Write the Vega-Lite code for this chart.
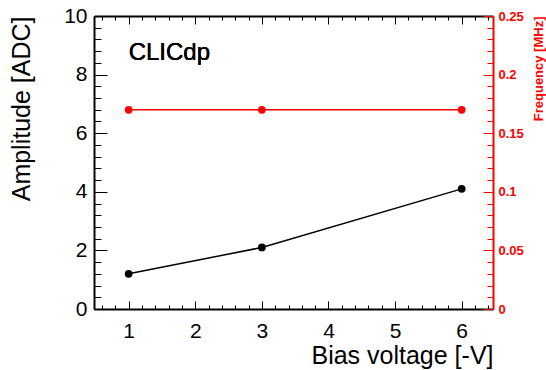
{
  "$schema": "https://vega.github.io/schema/vega-lite/v6.json",
  "width": 399,
  "height": 293,
  "autosize": {"type": "none"},
  "padding": {"left": 94, "top": 16, "right": 53, "bottom": 61},
  "background": "white",
  "config": {
    "view": {"stroke": null},
    "font": "Liberation Sans",
    "axis": {"grid": false, "ticks": true, "domainWidth": 2, "domainColor": "black", "tickColor": "black", "tickWidth": 1, "tickOpacity": 1, "labelColor": "black", "titleColor": "black", "labelFont": "Liberation Sans", "titleFont": "Liberation Sans", "titleFontWeight": "normal", "labelFontWeight": "normal"},
    "axisBottom": {"ticks": true, "tickColor": "black", "tickWidth": 1, "tickOpacity": 1},
    "axisLeft": {"ticks": true, "tickColor": "black", "tickWidth": 1, "tickOpacity": 1},
    "axisX": {"ticks": true, "tickOpacity": 1, "tickWidth": 1},
    "axisY": {"ticks": true, "tickOpacity": 1, "tickWidth": 1}
  },
  "data": {
    "values": [
      {"voltage": 1, "amplitude": 1.2, "frequency": 0.17},
      {"voltage": 3, "amplitude": 2.1, "frequency": 0.17},
      {"voltage": 6, "amplitude": 4.1, "frequency": 0.17}
    ]
  },
  "layer": [
    {
      "mark": {"type": "line", "color": "black", "strokeWidth": 1.5, "point": {"filled": true, "size": 60, "color": "black"}},
      "encoding": {
        "x": {
          "field": "voltage", "type": "quantitative",
          "scale": {"domain": [0.48, 6.47], "nice": false, "zero": false},
          "axis": {
            "orient": "bottom",
            "ticks": true,
            "tickColor": "black",
            "tickWidth": 1,
            "tickOpacity": 1,
            "title": "Bias voltage [-V]",
            "titleFontSize": 25,
            "titleAnchor": "end",
            "titleAlign": "right",
            "titlePadding": -2,
            "values": [0.6, 0.8, 1, 1.2, 1.4, 1.6, 1.8, 2, 2.2, 2.4, 2.6, 2.8, 3, 3.2, 3.4, 3.6, 3.8, 4, 4.2, 4.4, 4.6, 4.8, 5, 5.2, 5.4, 5.6, 5.8, 6, 6.2, 6.4],
            "labelExpr": "abs(datum.value - round(datum.value)) < 0.001 ? format(datum.value, 'd') : ''",
            "labelFontSize": 21,
            "labelPadding": 19,
            "labelFlush": false,
            "labelOverlap": false,
            "tickSize": {"condition": {"test": "abs(datum.value - round(datum.value)) < 0.001", "value": -8}, "value": -4}
          }
        },
        "y": {
          "field": "amplitude", "type": "quantitative",
          "scale": {"domain": [0, 10], "nice": false},
          "axis": {
            "orient": "left",
            "ticks": true,
            "tickColor": "black",
            "tickWidth": 1,
            "tickOpacity": 1,
            "title": "Amplitude [ADC]",
            "titleFontSize": 25,
            "titleAnchor": "end",
            "titlePadding": 29,
            "values": [0, 0.4, 0.8, 1.2, 1.6, 2, 2.4, 2.8, 3.2, 3.6, 4, 4.4, 4.8, 5.2, 5.6, 6, 6.4, 6.8, 7.2, 7.6, 8, 8.4, 8.8, 9.2, 9.6, 10],
            "labelExpr": "abs(datum.value / 2 - round(datum.value / 2)) < 0.001 ? format(datum.value, 'd') : ''",
            "labelFontSize": 21,
            "labelPadding": 20,
            "labelFlush": false,
            "labelOverlap": false,
            "tickSize": {"condition": {"test": "abs(datum.value / 2 - round(datum.value / 2)) < 0.001", "value": -13}, "value": -7}
          }
        }
      }
    },
    {
      "mark": {"type": "line", "color": "#ff0000", "strokeWidth": 1.5, "point": {"filled": true, "size": 60, "color": "#ff0000"}},
      "encoding": {
        "x": {
          "field": "voltage", "type": "quantitative",
          "scale": {"domain": [0.48, 6.47], "nice": false, "zero": false},
          "axis": {
            "orient": "top",
            "title": null,
            "labels": false,
            "values": [0.6, 0.8, 1, 1.2, 1.4, 1.6, 1.8, 2, 2.2, 2.4, 2.6, 2.8, 3, 3.2, 3.4, 3.6, 3.8, 4, 4.2, 4.4, 4.6, 4.8, 5, 5.2, 5.4, 5.6, 5.8, 6, 6.2, 6.4],
            "tickSize": {"condition": {"test": "abs(datum.value - round(datum.value)) < 0.001", "value": -8}, "value": -4}
          }
        },
        "y": {
          "field": "frequency", "type": "quantitative",
          "scale": {"domain": [0, 0.25], "nice": false},
          "axis": {
            "orient": "right",
            "title": "Frequency [MHz]",
            "titleColor": "#ff0000",
            "titleFontSize": 13,
            "titleFontWeight": "bold",
            "titleAnchor": "end",
            "titleAngle": 270,
            "titleBaseline": "bottom",
            "titlePadding": 22,
            "domainColor": "#ff0000",
            "tickColor": "#ff0000",
            "labelColor": "#ff0000",
            "labelFontWeight": "bold",
            "labelFontSize": 13,
            "labelPadding": 15,
            "labelFlush": false,
            "labelOverlap": false,
            "values": [0, 0.01, 0.02, 0.03, 0.04, 0.05, 0.06, 0.07, 0.08, 0.09, 0.1, 0.11, 0.12, 0.13, 0.14, 0.15, 0.16, 0.17, 0.18, 0.19, 0.2, 0.21, 0.22, 0.23, 0.24, 0.25],
            "labelExpr": "abs(datum.value / 0.05 - round(datum.value / 0.05)) < 0.001 ? '' + round(datum.value * 100) / 100 : ''",
            "tickSize": {"condition": {"test": "abs(datum.value / 0.05 - round(datum.value / 0.05)) < 0.001", "value": -10}, "value": -6}
          }
        }
      }
    },
    {
      "mark": {"type": "text", "text": "CLICdp", "align": "left", "baseline": "middle", "fontSize": 24, "fontWeight": "normal", "font": "Liberation Sans", "color": "black"},
      "encoding": {
        "x": {"datum": 1.0, "type": "quantitative", "axis": null, "scale": {"domain": [0.48, 6.47], "nice": false, "zero": false}},
        "y": {"datum": 8.75, "type": "quantitative", "axis": null, "scale": {"domain": [0, 10], "nice": false}}
      }
    }
  ],
  "resolve": {"scale": {"x": "independent", "y": "independent"}}
}
